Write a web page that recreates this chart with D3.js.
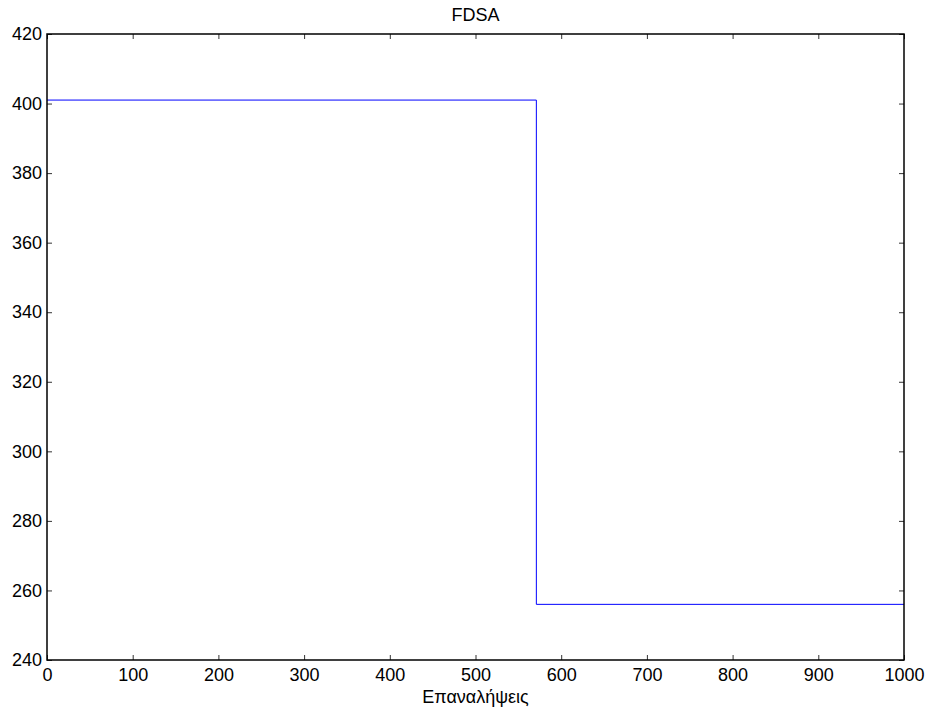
<!DOCTYPE html>
<html><head><meta charset="utf-8">
<script src="https://cdn.jsdelivr.net/npm/d3@7"></script>
<style>body{margin:0;background:#fff}svg{display:block}text{font-family:"Liberation Sans",Arial,sans-serif}</style>
</head><body><svg id="c" width="928" height="713"></svg>
<script>
const iterations = [0, 571, 1000];
const values = [401, 256, 256];
const xTicks = [0,100,200,300,400,500,600,700,800,900,1000];
const yTicks = [240,260,280,300,320,340,360,380,400,420];
const title = "FDSA";
const xLabel = "Επαναλήψεις";

const svg = d3.select("#c");
const L=47, R=904, T=34, B=660;
const x = d3.scaleLinear().domain([0,1000]).range([L,R]);
const y = d3.scaleLinear().domain([240,420]).range([B,T]);

const fs = 18;
const styleAxis = g=>{
  g.select(".domain").remove();
  g.selectAll("line").attr("stroke","#333");
  g.selectAll("text").attr("font-size",fs).attr("font-family","Liberation Sans, Arial").attr("fill","#000");
};
svg.append("g").attr("transform",`translate(0,${B})`)
  .call(d3.axisBottom(x).tickValues(xTicks).tickFormat(d3.format("d")).tickSizeInner(-5).tickSizeOuter(0).tickPadding(8))
  .call(styleAxis);
svg.append("g").attr("transform",`translate(0,${T})`)
  .call(d3.axisTop(x).tickValues(xTicks).tickSizeInner(-5).tickSizeOuter(0).tickFormat(""))
  .call(styleAxis);
svg.append("g").attr("transform",`translate(${L},0)`)
  .call(d3.axisLeft(y).tickValues(yTicks).tickFormat(d3.format("d")).tickSizeInner(-5).tickSizeOuter(0).tickPadding(5))
  .call(styleAxis);
svg.append("g").attr("transform",`translate(${R},0)`)
  .call(d3.axisRight(y).tickValues(yTicks).tickSizeInner(-5).tickSizeOuter(0).tickFormat(""))
  .call(styleAxis);

const pts = iterations.map((d,i)=>[d,values[i]]);
svg.append("path").datum(pts)
  .attr("fill","none").attr("stroke","#0000ff").attr("stroke-width",1)
  .attr("d", d3.line().x(d=>x(d[0])).y(d=>y(d[1])).curve(d3.curveStepAfter));

// frame
svg.append("rect").attr("x",L).attr("y",T).attr("width",R-L).attr("height",B-T)
  .attr("fill","none").attr("stroke","#000").attr("stroke-width",1.5);

svg.append("text").attr("x",(L+R)/2).attr("y",21).attr("text-anchor","middle").attr("font-size",fs).text(title);
svg.append("text").attr("x",(L+R)/2).attr("y",703).attr("text-anchor","middle").attr("font-size",fs).text(xLabel);
</script></body></html>
